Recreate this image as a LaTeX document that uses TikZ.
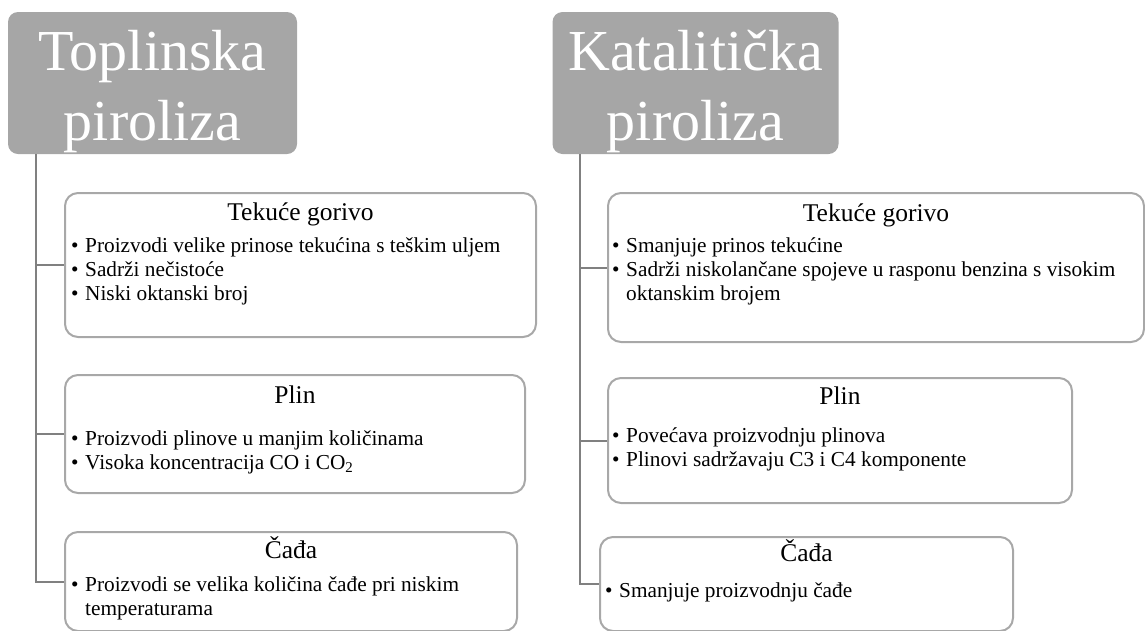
\documentclass[tikz,border=0pt]{standalone}
\usepackage{fontspec}
\setmainfont{Liberation Serif}
\usetikzlibrary{positioning}

\definecolor{hdrgray}{RGB}{166,166,166}
\definecolor{boxgray}{RGB}{168,168,168}
\definecolor{linegray}{RGB}{128,128,128}

\newcommand{\itm}{\makebox[14pt][l]{•}}
\newcommand{\cont}{\hspace*{14pt}}

\begin{document}
\begin{tikzpicture}[x=1pt,y=1pt,
  hdr/.style={fill=hdrgray, rounded corners=10pt, inner sep=0pt},
  hdrtext/.style={text=white, align=center, inner sep=0pt, font=\fontsize{58}{70}\selectfont},
  itembox/.style={draw=boxgray, line width=2pt, fill=white, rounded corners=13pt, inner sep=0pt},
  itemhead/.style={anchor=base, inner sep=0pt, font=\fontsize{25.5}{30}\selectfont},
  itemtext/.style={anchor=base west, align=left, inner sep=0pt, font=\fontsize{21.3}{24}\selectfont},
  conn/.style={draw=linegray, line width=2pt}]
\useasboundingbox (0,0) rectangle (1145,-630);
\clip (0,0) rectangle (1145,-630);
\coordinate (lx) at (36,0);
\coordinate (rx) at (580,0);
\node[hdr, minimum width=289, minimum height=142] (topl) at (152.5,-83) {};
\node[hdr, minimum width=286, minimum height=142] (kat) at (695.5,-83) {};
\node[hdrtext, anchor=base] (topltxt) at (152.5,-140) {Toplinska\\piroliza};
\node[hdrtext, anchor=base] (kattxt) at (695.5,-140) {Katalitička\\piroliza};
\node[itembox, minimum width=471, minimum height=144] (tg1) at (300.5,-265) {};
\node[itembox, minimum width=460, minimum height=118] (pl1) at (295,-434) {};
\node[itembox, minimum width=452, minimum height=99] (cd1) at (291,-581.5) {};
\node[itembox, minimum width=536, minimum height=149] (tg2) at (876,-267.5) {};
\node[itembox, minimum width=464, minimum height=125] (pl2) at (840,-440.5) {};
\node[itembox, minimum width=413, minimum height=94] (cd2) at (806.5,-584) {};
\draw[conn] (topl.south -| lx) |- (cd1.west);
\draw[conn] (tg1.west -| lx) -- (tg1.west);
\draw[conn] (pl1.west -| lx) -- (pl1.west);
\draw[conn] (kat.south -| rx) |- (cd2.west);
\draw[conn] (tg2.west -| rx) -- (tg2.west);
\draw[conn] (pl2.west -| rx) -- (pl2.west);
\node[itemhead] (tg1h) at (300.5,-220) {Tekuće gorivo};
\node[itemtext] (tg1t) at (71,-300) {\itm Proizvodi velike prinose tekućina s teškim uljem\\\itm Sadrži nečistoće\\\itm Niski oktanski broj};
\node[itemhead] (pl1h) at (295,-403) {Plin};
\node[itemtext] (pl1t) at (71,-469) {\itm Proizvodi plinove u manjim količinama\\\itm Visoka koncentracija CO i CO\textsubscript{2}};
\node[itemhead] (cd1h) at (291,-558) {Čađa};
\node[itemtext] (cd1t) at (71,-615) {\itm Proizvodi se velika količina čađe pri niskim\\\cont temperaturama};
\node[itemhead] (tg2h) at (876,-221) {Tekuće gorivo};
\node[itemtext] (tg2t) at (612,-300) {\itm Smanjuje prinos tekućine\\\itm Sadrži niskolančane spojeve u rasponu benzina s visokim\\\cont oktanskim brojem};
\node[itemhead] (pl2h) at (840,-404) {Plin};
\node[itemtext] (pl2t) at (612,-466) {\itm Povećava proizvodnju plinova\\\itm Plinovi sadržavaju C3 i C4 komponente};
\node[itemhead] (cd2h) at (806.5,-561) {Čađa};
\node[itemtext] (cd2t) at (605,-597) {\itm Smanjuje proizvodnju čađe};
\end{tikzpicture}
\end{document}
